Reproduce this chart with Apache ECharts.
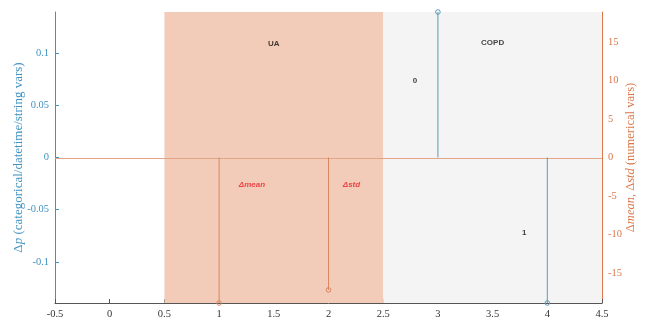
<!DOCTYPE html>
<html>
<head>
<meta charset="utf-8">
<script src="https://cdn.jsdelivr.net/npm/echarts@6/dist/echarts.min.js"></script>
<style>
  html, body { margin: 0; padding: 0; background: #fff; }
  #chart { width: 649px; height: 320px; }
</style>
</head>
<body>
<div id="chart"></div>
<script>
// Group bands along x
const groupNames = ['UA', 'COPD'];
const groupSpans = [[0.5, 2.5], [2.5, 4.5]];

// Numerical variables (right axis)
const numX = [1, 2];
const numNames = ['Δmean', 'Δstd'];
const numValues = [-18.9, -17.2];

// Categorical levels of COPD (left axis)
const catX = [3, 4];
const catNames = ['0', '1'];
const catValues = [0.1395, -0.1395];

// Axis ticks
const xTicks = [-0.5, 0, 0.5, 1, 1.5, 2, 2.5, 3, 3.5, 4, 4.5];
const leftTicks = [-0.1, -0.05, 0, 0.05, 0.1];
const rightTicks = [-15, -10, -5, 0, 5, 10, 15];
const leftLimit = 0.1395;
const rightLimit = 18.9;

const BLUE = '#3f93c2';
const BLUE_STEM = '#5a9db8';
const ORANGE = '#d9774a';
const ORANGE_STEM = '#da8660';
const ZERO_LINE = '#e2a588';
const SERIF = '"Liberation Serif", "DejaVu Serif", serif';
const SANS = '"Liberation Sans", Arial, sans-serif';

function stemRenderer(color) {
  return function (params, api) {
    const x = api.value(0), y = api.value(1);
    const p0 = api.coord([x, 0]);
    const p1 = api.coord([x, y]);
    return {
      type: 'group',
      children: [
        { type: 'line', shape: { x1: p0[0], y1: p0[1], x2: p1[0], y2: p1[1] },
          style: { stroke: color, lineWidth: 1 } },
        { type: 'circle', shape: { cx: p1[0], cy: p1[1], r: 2.3 },
          style: { fill: 'none', stroke: color, lineWidth: 1 } }
      ]
    };
  };
}

// Horizontal zero reference across the full x range
function zeroLineRenderer(params, api) {
  const a = api.coord([api.value(0), 0]);
  const b = api.coord([api.value(1), 0]);
  return {
    type: 'line',
    shape: { x1: a[0], y1: Math.round(a[1]) + 0.5, x2: b[0], y2: Math.round(b[1]) + 0.5 },
    style: { stroke: ZERO_LINE, lineWidth: 1.2 }
  };
}

const chart = echarts.init(document.getElementById('chart'), null, { renderer: 'canvas' });

const option = {
  animation: false,
  backgroundColor: '#ffffff',
  grid: { left: 55, right: 47, top: 12, bottom: 17, containLabel: false, outerBoundsMode: 'none' },
  xAxis: {
    type: 'value', min: -0.5, max: 4.5, interval: 0.5,
    axisLine: { show: true, onZero: false, lineStyle: { color: '#555', width: 1 } },
    axisTick: { show: true, inside: true, length: 4, lineStyle: { color: '#555' } },
    axisLabel: { color: '#333', fontFamily: SERIF, fontSize: 10.5, margin: 6,
      formatter: v => String(v), customValues: xTicks },
    splitLine: { show: false }
  },
  yAxis: [
    {
      type: 'value', position: 'left', min: -leftLimit, max: leftLimit,
      axisLine: { show: true, onZero: false, lineStyle: { color: BLUE, width: 1 } },
      axisTick: { show: true, inside: true, length: 4, customValues: leftTicks, lineStyle: { color: BLUE } },
      axisLabel: { color: BLUE, fontFamily: SERIF, fontSize: 10.5, margin: 6,
        customValues: leftTicks, formatter: v => String(Math.round(v * 100) / 100) },
      splitLine: { show: false },
      name: '{d|Δ}{i|p}{d| (categorical/datetime/string vars)}',
      nameLocation: 'middle', nameRotate: 90, nameGap: 30, nameMoveOverlap: false,
      nameTextStyle: {
        rich: {
          d: { color: BLUE, fontFamily: SERIF, fontSize: 13 },
          i: { color: BLUE, fontFamily: SERIF, fontSize: 13, fontStyle: 'italic' }
        }
      }
    },
    {
      type: 'value', position: 'right', min: -rightLimit, max: rightLimit,
      axisLine: { show: true, onZero: false, lineStyle: { color: ORANGE, width: 1 } },
      axisTick: { show: true, inside: true, length: 4, customValues: rightTicks, lineStyle: { color: ORANGE } },
      axisLabel: { color: ORANGE, fontFamily: SERIF, fontSize: 10.5, margin: 6,
        customValues: rightTicks, formatter: v => String(v) },
      splitLine: { show: false },
      name: '{d|Δ}{i|mean}{d|, Δ}{i|std}{d| (numerical vars)}',
      nameLocation: 'middle', nameRotate: 90, nameGap: 22, nameMoveOverlap: false,
      nameTextStyle: {
        rich: {
          d: { color: ORANGE, fontFamily: SERIF, fontSize: 12.5 },
          i: { color: ORANGE, fontFamily: SERIF, fontSize: 12.5, fontStyle: 'italic' }
        }
      }
    }
  ],
  series: [
    // group bands
    {
      type: 'line', xAxisIndex: 0, yAxisIndex: 0, data: [], silent: true,
      markArea: {
        silent: true,
        data: groupSpans.map((s, i) => [
          { xAxis: s[0], yAxis: -leftLimit, itemStyle: { color: i === 0 ? '#f2cbb9' : '#f4f4f4' } },
          { xAxis: s[1], yAxis: leftLimit }
        ])
      },
      z: 1
    },
    // zero line
    {
      type: 'custom', xAxisIndex: 0, yAxisIndex: 1, silent: true,
      renderItem: zeroLineRenderer,
      data: [[xTicks[0], xTicks[xTicks.length - 1]]],
      z: 2
    },
    // numerical stems
    {
      type: 'custom', xAxisIndex: 0, yAxisIndex: 1, clip: false,
      renderItem: stemRenderer(ORANGE_STEM),
      data: numX.map((x, i) => [x, numValues[i]]), z: 3
    },
    // categorical stems
    {
      type: 'custom', xAxisIndex: 0, yAxisIndex: 0, clip: false,
      renderItem: stemRenderer(BLUE_STEM),
      data: catX.map((x, i) => [x, catValues[i]]), z: 3
    },
    // group names
    {
      type: 'scatter', xAxisIndex: 0, yAxisIndex: 0, symbolSize: 0, silent: true,
      data: [[1.5, 0.109, groupNames[0]], [3.5, 0.11, groupNames[1]]],
      label: { show: true, position: 'inside', formatter: p => p.value[2],
        color: '#111', fontFamily: SANS, fontWeight: 'bold', fontSize: 8 },
      z: 4
    },
    // level names
    {
      type: 'scatter', xAxisIndex: 0, yAxisIndex: 0, symbolSize: 0, silent: true,
      data: [[2.79, 0.074, catNames[0]], [3.79, -0.072, catNames[1]]],
      label: { show: true, position: 'inside', formatter: p => p.value[2],
        color: '#111', fontFamily: SANS, fontWeight: 'bold', fontSize: 8 },
      z: 4
    },
    // statistic names
    {
      type: 'scatter', xAxisIndex: 0, yAxisIndex: 0, symbolSize: 0, silent: true,
      data: [[1.3, -0.026, numNames[0]], [2.21, -0.026, numNames[1]]],
      label: { show: true, position: 'inside', formatter: p => p.value[2],
        color: '#e8262a', fontFamily: SANS, fontWeight: 'bold', fontStyle: 'italic', fontSize: 8 },
      z: 4
    }
  ]
};

chart.setOption(option);
</script>
</body>
</html>
